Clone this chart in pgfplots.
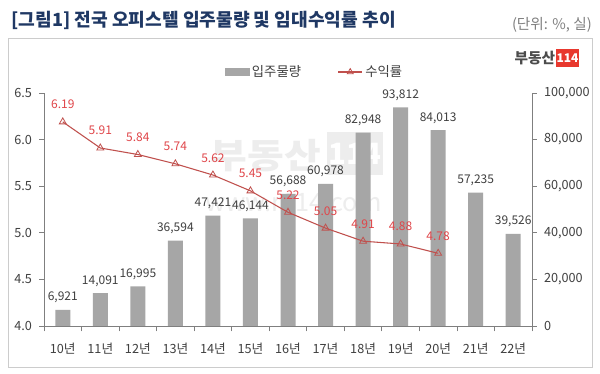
\documentclass[border=0pt]{standalone}
\usepackage{fontspec}
\setmainfont{Noto Sans CJK KR}
\usepackage{pgfplots}
\pgfplotsset{compat=1.18}
\definecolor{barc}{HTML}{A6A6A6}
\definecolor{linec}{HTML}{C0504D}
\definecolor{labr}{HTML}{E0464A}
\definecolor{navy}{HTML}{1F3864}
\definecolor{axc}{HTML}{7F7F7F}
\definecolor{txt}{HTML}{404040}
\definecolor{logored}{HTML}{E8382E}
\definecolor{wm}{HTML}{EDEDED}
\begin{document}
\begin{tikzpicture}[x=1pt,y=1pt]
\path[use as bounding box] (0,0) rectangle (450,280.5);
\fill[white] (0,0) rectangle (450,280.5);
\draw[black!20, line width=0.75pt] (6.5,4.5) rectangle (444,251.25);
\node[anchor=west, font=\fontsize{13.6}{15}\selectfont\bfseries, text=navy, inner sep=0] at (8.5,265.5) {[그림1] 전국 오피스텔 입주물량 및 임대수익률 추이};
\node[anchor=east, font=\fontsize{11}{12}\selectfont, text=black!50, inner sep=0] at (444,261.75) {(단위: \%, 실)};
% logo
\node[anchor=east, font=\fontsize{11}{12}\selectfont\bfseries, text=black!70, inner sep=0] at (416.5,237) {부동산};
\fill[logored] (417,230) rectangle (434.25,244);
\node[font=\fontsize{9}{10}\selectfont\bfseries, text=white, inner sep=0] at (425.6,237) {114};
% watermark
\node[anchor=east, font=\fontsize{26}{28}\selectfont\bfseries, text=wm, inner sep=0, xscale=1.15] at (241,164) {부동산};
\fill[wm] (245.25,149.25) rectangle (287.25,181.5);
\node[font=\fontsize{22}{24}\selectfont\bfseries, text=white, inner sep=0] at (266.25,165.4) {114};
\node[anchor=east, font=\fontsize{19}{20}\selectfont, text=wm, inner sep=0] at (286.5,128.25) {www.r114.com};
\begin{axis}[
  at={(33pt,36pt)}, anchor=south west,
  scale only axis, width=366pt, height=174.75pt,
  xmin=-0.5, xmax=12.5, ymin=0, ymax=100000,
  axis y line*=right, axis x line*=bottom,
  axis line style={axc, line width=0.6pt},
  xtick={0,...,12},
  xticklabels={10년,11년,12년,13년,14년,15년,16년,17년,18년,19년,20년,21년,22년},
  minor xtick={-0.5,0.5,...,12.5},
  major x tick style={draw=none},
  minor x tick style={axc, line width=0.6pt},
  minor tick length=4pt,
  ytick={0,20000,...,100000},
  y tick style={axc, line width=0.6pt},
  major tick length=3.5pt,
  tick align=outside,
  scaled y ticks=false,
  yticklabel style={/pgf/number format/fixed, /pgf/number format/1000 sep={,}, /pgf/number format/assume math mode=true, xshift=2pt},
  ticklabel style={font=\fontsize{9.5}{11}\selectfont, text=txt},
  xticklabel style={yshift=-6pt},
  ybar, bar width=11.25pt,
  nodes near coords,
  nodes near coords style={font=\fontsize{9}{10}\selectfont, text=txt, /pgf/number format/fixed, /pgf/number format/1000 sep={,}, /pgf/number format/assume math mode=true, yshift=1.5pt},
  clip=false,
]
\addplot[fill=barc, draw=none] coordinates {
(0,6921) (1,14091) (2,16995) (3,36594) (4,47421) (5,46144) (6,56688)
(7,60978) (8,82948) (9,93812) (10,84013) (11,57235) (12,39526)};
\end{axis}
\begin{axis}[
  at={(33pt,36pt)}, anchor=south west,
  scale only axis, width=366pt, height=174.75pt,
  xmin=-0.5, xmax=12.5, ymin=4, ymax=6.5,
  axis y line*=left, axis x line=none,
  axis line style={axc, line width=0.6pt},
  ytick={4,4.5,...,6.5},
  y tick style={axc, line width=0.6pt},
  major tick length=3.5pt,
  tick align=outside,
  yticklabel style={/pgf/number format/fixed, /pgf/number format/fixed zerofill, /pgf/number format/precision=1, /pgf/number format/assume math mode=true, xshift=-2pt},
  ticklabel style={font=\fontsize{9.5}{11}\selectfont, text=txt},
  clip=false,
  legend columns=2,
  legend style={draw=none, fill=none, at={(0.555,1.09)}, anchor=center,
    font=\fontsize{10}{11}\selectfont, text=txt,
    /tikz/every even column/.append style={column sep=25.5pt}},
  legend cell align=left,
]
\addlegendimage{legend image code/.code={\fill[barc] (0pt,-2.6pt) rectangle (18pt,2.6pt);}}
\addlegendentry{입주물량}
\addplot[linec, line width=0.8pt, mark=triangle, mark size=3pt, mark options={fill=white, line width=0.6pt},
  nodes near coords, point meta=explicit symbolic,
  nodes near coords style={font=\fontsize{9}{10}\selectfont, text=labr, yshift=6pt},
  legend image code/.code={\draw[linec, line width=0.8pt] (0pt,0pt) -- (18pt,0pt); \draw[linec, line width=0.6pt, fill=white] plot[mark=triangle, mark size=2.6pt] coordinates {(9pt,0pt)};}]
coordinates {
(0,6.19)[6.19] (1,5.91)[5.91] (2,5.84)[5.84] (3,5.74)[5.74] (4,5.62)[5.62] (5,5.45)[5.45]
(6,5.22)[5.22] (7,5.05)[5.05] (8,4.91)[4.91] (9,4.88)[4.88] (10,4.78)[4.78]};
\addlegendentry{수익률}
\end{axis}
\end{tikzpicture}
\end{document}
